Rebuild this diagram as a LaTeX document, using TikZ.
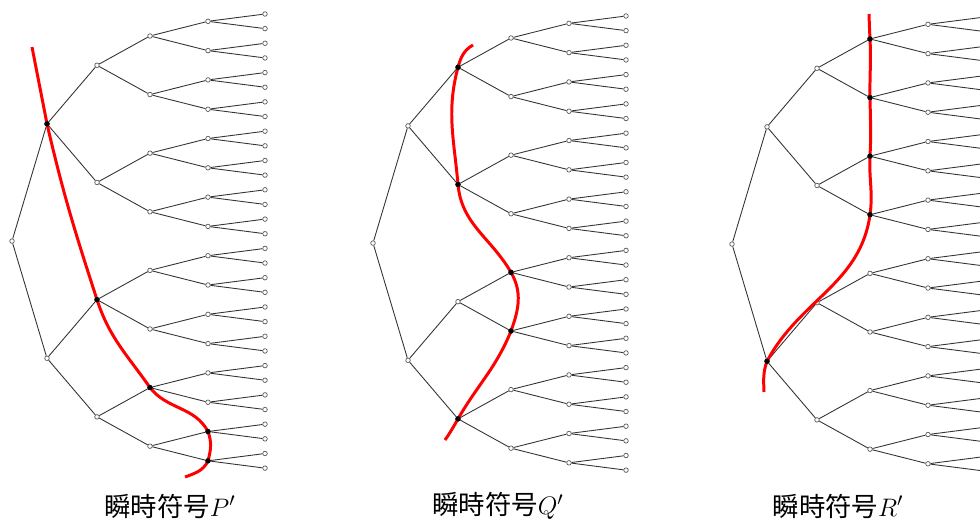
\documentclass[tikz,border=0pt]{standalone}
\usepackage{fontspec}
\newfontfamily\jpfont{Noto Sans CJK JP}
\begin{document}
\begin{tikzpicture}
  [x=0.02cm,y=0.02cm,
   vert/.style={circle,draw=black!65,fill=white,line width=0.4pt,inner sep=0pt,minimum size=2.6pt},
   cutv/.style={vert,draw=black,fill=black},
   edge/.style={draw=black!80,line width=0.5pt},
   cut/.style={draw=red,line width=1.7pt},
   capt/.style={font=\fontsize{15}{18}\selectfont\jpfont,inner sep=0pt}]
  \useasboundingbox (0,0) rectangle (980,520);

  \foreach \tr/\dx/\dy in {P/0/0,Q/361/-2,R/720/-3}{
    \foreach \lv/\x in {0/12,1/47,2/97,3/150,4/208,5/265}{
      \pgfmathtruncatemacro\n{2^\lv-1}
      \pgfmathtruncatemacro\w{2^(5-\lv)}
      \foreach \i in {0,...,\n}
        \node[vert] (\tr-\lv-\i) at (\x+\dx, {506+\dy-14.65*(\w*\i+(\w-1)/2)}) {};
    }
    \foreach \lv in {1,...,5}{
      \pgfmathtruncatemacro\n{2^\lv-1}
      \pgfmathtruncatemacro\k{\lv-1}
      \foreach \i in {0,...,\n}{
        \pgfmathtruncatemacro\p{floor(\i/2)}
        \draw[edge] (\tr-\k-\p) -- (\tr-\lv-\i);
      }
    }
  }

  \coordinate (P-s) at (32,473);
  \coordinate (P-e) at (185,43);
  \draw[cut] (P-s) to[out=-79,in=101] (P-1-0.center) to[out=-77,in=108] (P-2-2.center)
    to[out=-72,in=125] (P-3-6.center) to[out=-52,in=118] (P-4-14.center)
    to[out=-70,in=75] (P-4-15.center) to[out=-115,in=20] (P-e);

  \coordinate (Q-s) at (473,475);
  \coordinate (Q-e) at (445,80);
  \draw[cut] (Q-s) to[out=-150,in=75] (Q-2-0.center) to[out=-105,in=95] (Q-2-1.center)
    to[out=-85,in=120] (Q-3-4.center) to[out=-60,in=70] (Q-3-5.center)
    to[out=-112,in=60] (Q-2-3.center) to[out=-120,in=55] (Q-e);

  \coordinate (R-s) at (869,506);
  \coordinate (R-e) at (764,128);
  \draw[cut] (R-s) to[out=-88,in=93] (R-3-0.center) to[out=-87,in=91] (R-3-1.center)
    to[out=-89,in=87] (R-3-2.center) to[out=-93,in=82] (R-3-3.center)
    to[out=-98,in=62] (R-1-1.center) to[out=-110,in=92] (R-e);

  \foreach \v in {P-1-0,P-2-2,P-3-6,P-4-14,P-4-15,Q-2-0,Q-2-1,Q-3-4,Q-3-5,Q-2-3,
                  R-3-0,R-3-1,R-3-2,R-3-3,R-1-1}
    \node[cutv] (\v-cut) at (\v) {};

  \node[capt] (P-label) at (170,14) {瞬時符号$P'$};
  \node[capt] (Q-label) at (498,14) {瞬時符号$Q'$};
  \node[capt] (R-label) at (838,14) {瞬時符号$R'$};
\end{tikzpicture}
\end{document}
